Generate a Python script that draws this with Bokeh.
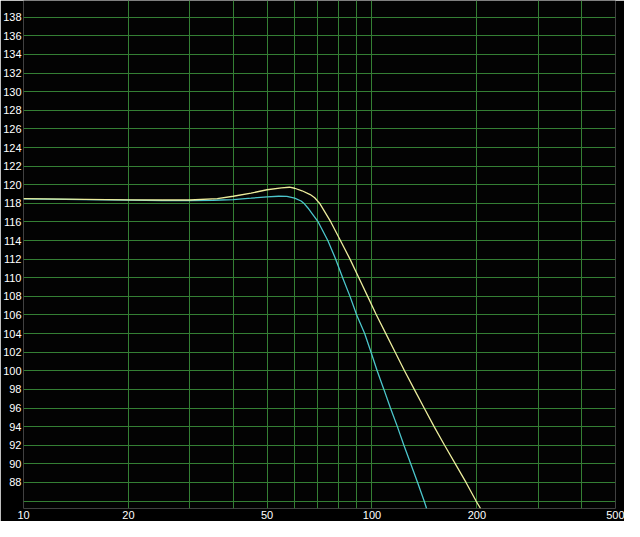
from bokeh.plotting import figure
from bokeh.models import FixedTicker
from bokeh.embed import file_html
from bokeh.resources import INLINE

# Frequency response curves (Hz, dB SPL)
freq_yellow = [10, 15, 20, 25, 30, 36, 40, 45, 50, 55, 58, 60, 63, 66.5, 68.5, 70.8,
               76.2, 81.2, 86.5, 91.7, 97.2, 103.0, 109.6, 116.6, 124.0, 132.3, 141.2,
               150.8, 161.6, 173.5, 186.2, 199.0, 205]
spl_yellow = [118.5, 118.42, 118.38, 118.36, 118.36, 118.5, 118.76, 119.1, 119.46, 119.66,
              119.73, 119.62, 119.35, 118.94, 118.6, 118.0,
              116, 114, 112, 110, 108, 106, 104, 102, 100, 98, 96,
              94, 92, 90, 88, 86, 85.2]

freq_cyan = [10, 15, 20, 25, 30, 35, 40, 45, 50, 54, 57, 60, 62.6, 64, 65.5, 67.5,
             70.1, 74.7, 78.7, 82.4, 86.5, 90.4, 95.3, 99.4, 103.5, 108.2, 113,
             118.3, 123.5, 129.2, 135.2, 141.2, 143.5]
spl_cyan = [118.48, 118.4, 118.34, 118.3, 118.3, 118.33, 118.4, 118.55, 118.7, 118.76,
            118.74, 118.55, 118.25, 117.95, 117.5, 116.85,
            116, 114, 112, 110, 108, 106, 104, 102, 100, 98, 96,
            94, 92, 90, 88, 86, 85.2]

x_tick_values = [10, 20, 50, 100, 200, 500]
x_tick_labels = ["10", "20", "50", "100", "200", "500"]
x_grid_values = [10, 20, 30, 40, 50, 60, 70, 80, 90, 100, 200, 300, 400]
y_tick_values = [88, 90, 92, 94, 96, 98, 100, 102, 104, 106, 108, 110, 112, 114,
                 116, 118, 120, 122, 124, 126, 128, 130, 132, 134, 136, 138]
y_grid_values = [86] + y_tick_values

GRID = "#347f34"
FONT = "Liberation Sans"

p = figure(width=624, height=521, x_axis_type="log", x_range=(10, 500),
           y_range=(85.2, 139.8), output_backend="svg", toolbar_location=None,
           background_fill_color="#030303", border_fill_color="#000000",
           min_border_left=22, min_border_right=9, min_border_top=0,
           min_border_bottom=13)
p.outline_line_color = None

xa = p.xaxis[0]
xa.ticker = FixedTicker(ticks=x_tick_values)
xa.major_label_overrides = {v: t for v, t in zip(x_tick_values, x_tick_labels)}
xa.axis_line_color = None
xa.major_tick_line_color = None
xa.minor_tick_line_color = None
xa.major_tick_out = 0
xa.major_tick_in = 0
xa.major_label_standoff = 2
xa.major_label_text_color = "#ffffff"
xa.major_label_text_font = FONT
xa.major_label_text_font_size = "11px"

p.xgrid.ticker = FixedTicker(ticks=x_grid_values)
p.xgrid.grid_line_color = GRID
p.xgrid.grid_line_width = 1

ya = p.yaxis[0]
ya.ticker = FixedTicker(ticks=y_tick_values)
ya.axis_line_color = None
ya.major_tick_line_color = None
ya.minor_tick_line_color = None
ya.major_tick_out = 0
ya.major_tick_in = 0
ya.major_label_text_color = "#ffffff"
ya.major_label_text_font = FONT
ya.major_label_text_font_size = "11px"
ya.major_label_standoff = 2

p.ygrid.ticker = FixedTicker(ticks=y_grid_values)
p.ygrid.grid_line_color = GRID
p.ygrid.grid_line_width = 1

p.line(freq_cyan, spl_cyan, line_color="#4cc6cc", line_width=1.3)
p.line(freq_yellow, spl_yellow, line_color="#ecec9c", line_width=1.3)

open("out.html", "w").write(file_html(p, INLINE))
